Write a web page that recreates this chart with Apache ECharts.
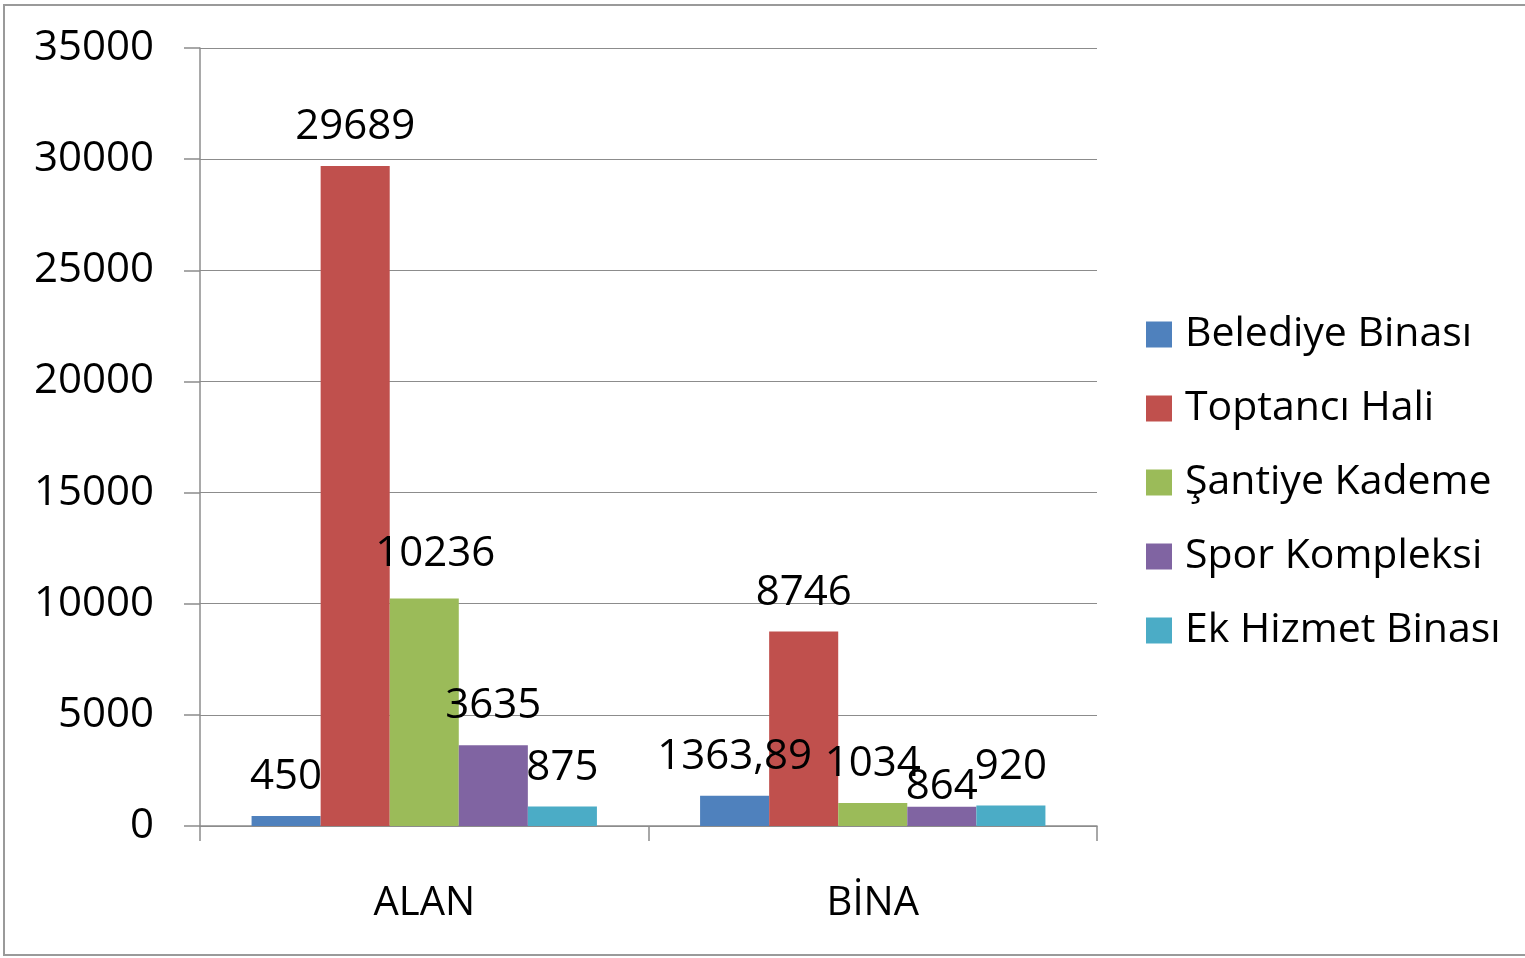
<!DOCTYPE html>
<html>
<head>
<meta charset="utf-8">
<script src="https://cdn.jsdelivr.net/npm/echarts@6/dist/echarts.min.js"></script>
<style>
  html, body { margin: 0; padding: 0; background: #fff; }
  #chart { width: 1525px; height: 958px; }
</style>
</head>
<body>
<div id="chart"></div>
<script>
const categories = ['ALAN', 'BİNA'];
const seriesNames = ['Belediye Binası', 'Toptancı Hali', 'Şantiye Kademe', 'Spor Kompleksi', 'Ek Hizmet Binası'];
const belediye = [450, 1363.89];
const toptanci = [29689, 8746];
const santiye = [10236, 1034];
const spor = [3635, 864];
const ekHizmet = [875, 920];
const colors = ['#4F81BD', '#C0504D', '#9BBB59', '#8064A2', '#4BACC6'];

// a few labels were nudged in the original
const labelNudge = {
  '2-0': [11, -5],
  '3-1': [0, 19]
};

window.addEventListener('load', function () {
  let chart = echarts.init(document.getElementById('chart'));
  let font = '"Open Sans", "Noto Sans", sans-serif';
  let values = [belediye, toptanci, santiye, spor, ekHizmet];

  let series = seriesNames.map((name, i) => ({
    name: name,
    type: 'bar',
    barGap: '0%',
    barCategoryGap: '23%',
    itemStyle: { color: colors[i] },
    data: values[i].map((v, j) => {
      let item = { value: v };
      let n = labelNudge[i + '-' + j];
      if (n) item.label = { offset: n };
      return item;
    }),
    label: {
      show: true,
      position: 'top',
      distance: 18,
      color: '#000',
      fontFamily: font,
      fontSize: 42,
      formatter: p => String(p.value).replace('.', ',')
    }
  }));

  let option = {
    animation: false,
    backgroundColor: '#fff',
    color: colors,
    grid: { left: 200, right: 428, top: 48, bottom: 132 },
    legend: {
      orient: 'vertical',
      left: 1146,
      top: 314,
      padding: 0,
      itemWidth: 26,
      itemHeight: 26,
      itemGap: 33,
      icon: 'rect',
      textStyle: { fontFamily: font, fontSize: 41, color: '#000', padding: [0, 0, 0, 8] },
      data: seriesNames
    },
    xAxis: {
      type: 'category',
      data: categories,
      axisLine: { lineStyle: { color: '#8c8c8c', width: 1.5 } },
      axisTick: { show: true, length: 15, lineStyle: { color: '#8c8c8c', width: 1.5 } },
      axisLabel: { color: '#000', fontFamily: font, fontSize: 40, margin: 58 }
    },
    yAxis: {
      type: 'value',
      min: 0,
      max: 35000,
      interval: 5000,
      axisLine: { show: true, lineStyle: { color: '#8c8c8c', width: 1.5 } },
      axisTick: { show: true, length: 16, lineStyle: { color: '#8c8c8c', width: 1.5 } },
      splitLine: { lineStyle: { color: '#8c8c8c', width: 1.2 } },
      axisLabel: { color: '#000', fontFamily: font, fontSize: 42, margin: 46, formatter: v => String(v) }
    },
    graphic: [{
      type: 'rect',
      shape: { x: 4, y: 5, width: 1540, height: 950 },
      style: { fill: 'none', stroke: '#9a9a9a', lineWidth: 2 },
      silent: true,
      z: -1
    }],
    series: series
  };

  chart.setOption(option);
});
</script>
</body>
</html>
